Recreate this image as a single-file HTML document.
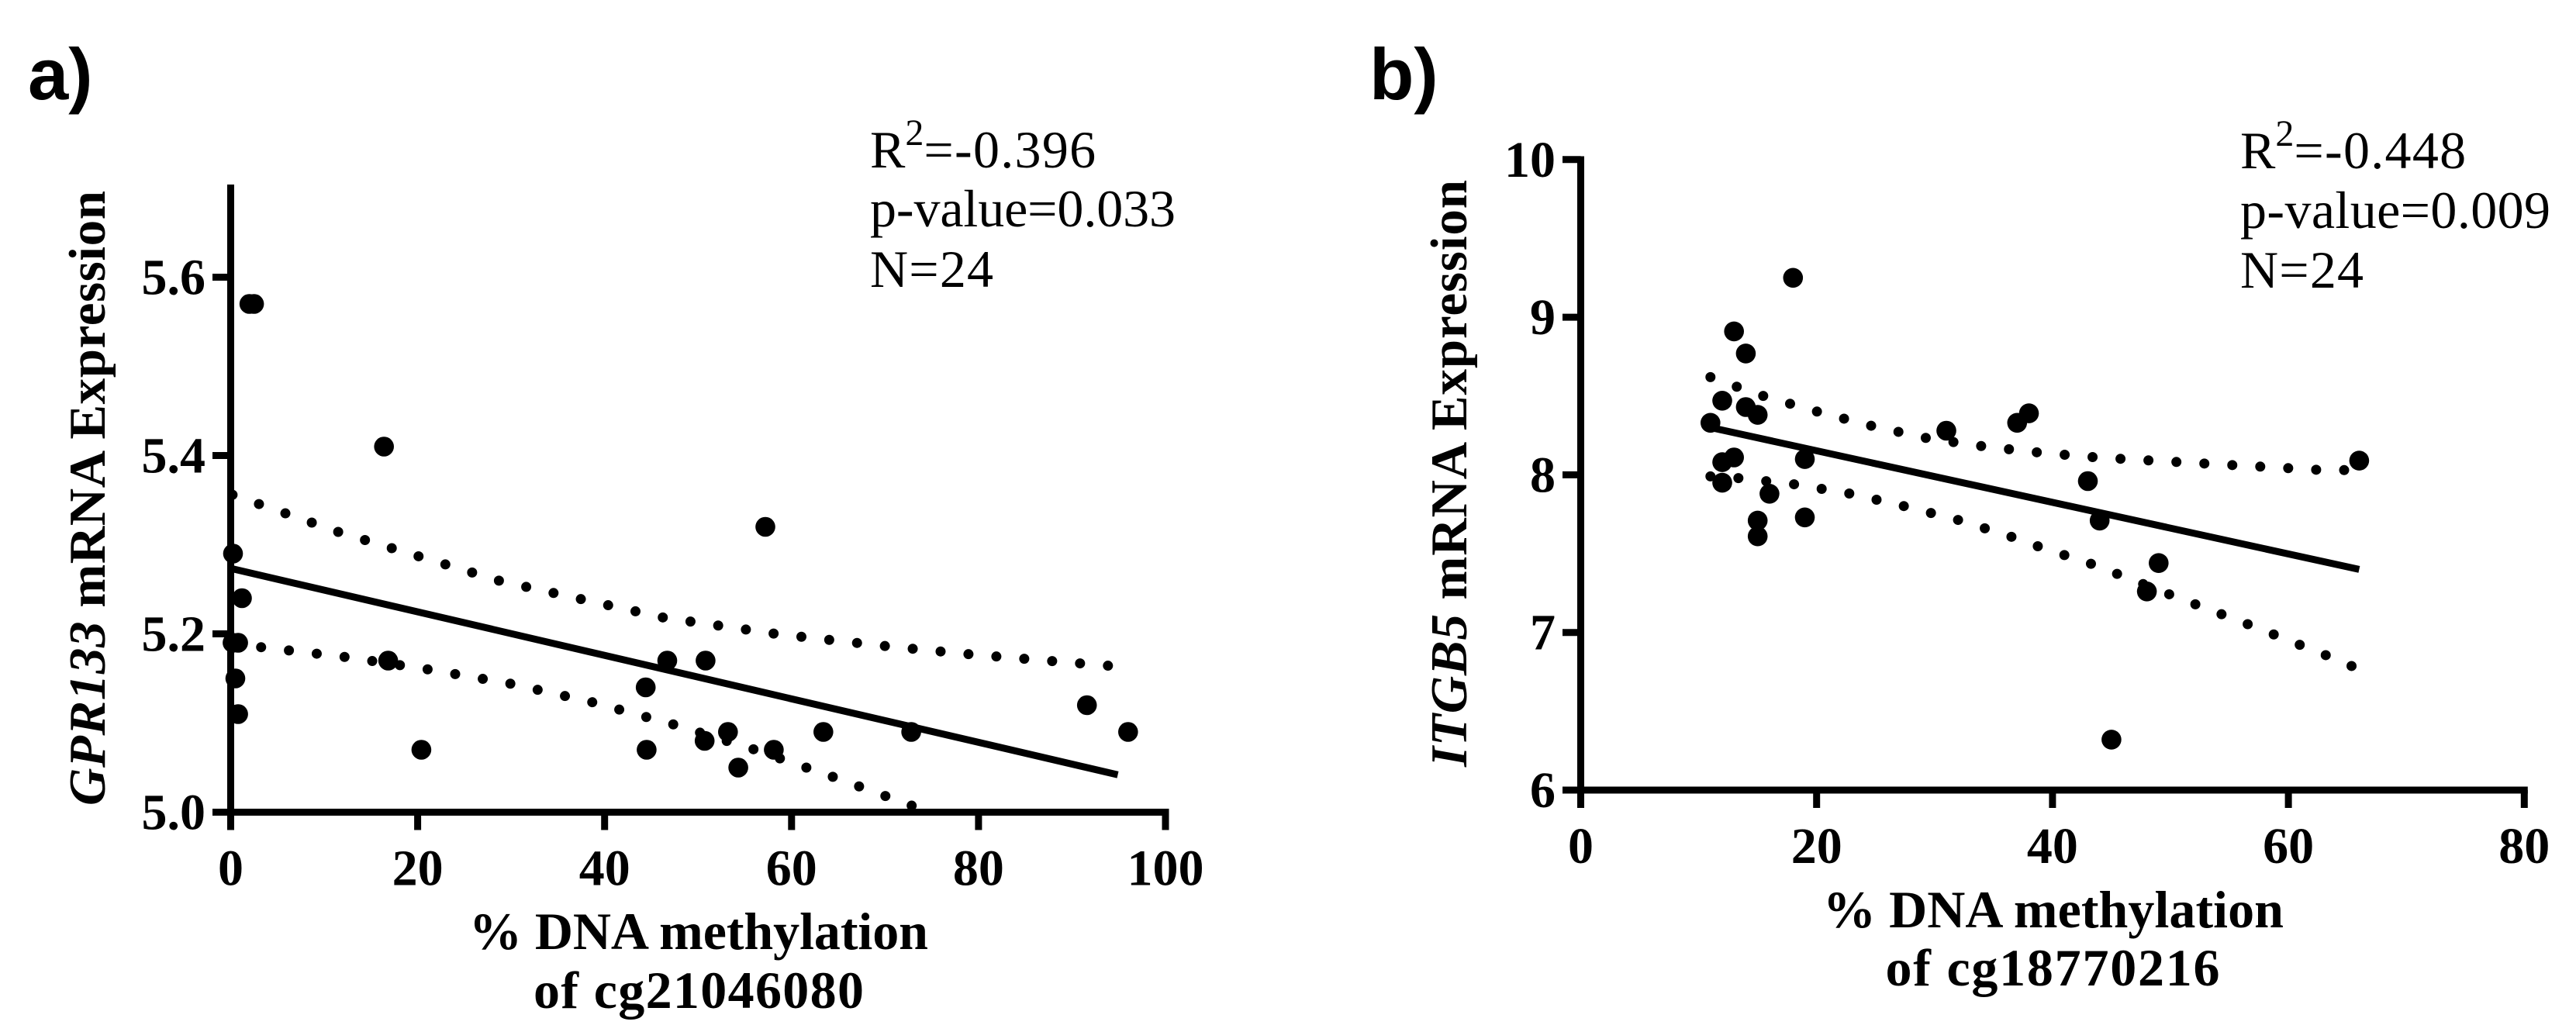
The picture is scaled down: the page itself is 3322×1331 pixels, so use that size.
<!DOCTYPE html>
<html lang="en">
<head>
<meta charset="utf-8">
<title>DNA methylation vs mRNA expression</title>
<style>
html,body{margin:0;padding:0;background:#fff;}
svg{display:block;}
text{fill:#000;}
.serif{font-family:"Liberation Serif",serif;}
.sans{font-family:"Liberation Sans",sans-serif;font-weight:bold;}
.b{font-weight:bold;}
</style>
</head>
<body>
<svg id="chart" xmlns="http://www.w3.org/2000/svg" width="3322" height="1331" viewBox="0 0 3322 1331">
  <rect x="0" y="0" width="3322" height="1331" fill="#fff"/>
  <text class="sans" x="36" y="128" font-size="94">a)</text>
  <text class="sans" x="1766" y="128" font-size="94">b)</text>

  <text class="serif" x="1122" y="216" font-size="68">R<tspan font-size="48" dy="-29">2</tspan><tspan dy="29" letter-spacing="1.3">=-0.396</tspan></text>
  <text class="serif" x="1122" y="292" font-size="68" textLength="394" lengthAdjust="spacing">p-value=0.033</text>
  <text class="serif" x="1122" y="370" font-size="68" textLength="159" lengthAdjust="spacing">N=24</text>

  <text class="serif" x="2889" y="217" font-size="68">R<tspan font-size="48" dy="-29">2</tspan><tspan dy="29" letter-spacing="1.3">=-0.448</tspan></text>
  <text class="serif" x="2889" y="294" font-size="68" textLength="400" lengthAdjust="spacing">p-value=0.009</text>
  <text class="serif" x="2889" y="371" font-size="68" textLength="159" lengthAdjust="spacing">N=24</text>

  <text class="serif b" font-size="67" transform="translate(135 1039) rotate(-90)" textLength="793" lengthAdjust="spacing"><tspan font-style="italic">GPR133</tspan> mRNA Expression</text>
  <text class="serif b" font-size="67" transform="translate(1891 989) rotate(-90)" textLength="757" lengthAdjust="spacing"><tspan font-style="italic">ITGB5</tspan> mRNA Expression</text>

  <text class="serif b" x="901" y="1224" font-size="68" text-anchor="middle" textLength="592" lengthAdjust="spacing">% DNA methylation</text>
  <text class="serif b" x="901" y="1300" font-size="68" text-anchor="middle" textLength="426" lengthAdjust="spacing">of cg21046080</text>
  <text class="serif b" x="2648" y="1196" font-size="68" text-anchor="middle" textLength="594" lengthAdjust="spacing">% DNA methylation</text>
  <text class="serif b" x="2647" y="1271" font-size="68" text-anchor="middle" textLength="431" lengthAdjust="spacing">of cg18770216</text>
</svg>
<script>
// Panel a data
var aXTicks = [0, 20, 40, 60, 80, 100];
var aYTicks = [5.0, 5.2, 5.4, 5.6];
var aYTickLabels = ['5.0', '5.2', '5.4', '5.6'];
var aPointX = [2, 2.5, 16.4, 57.2, 0.25, 1.2, 0.8, 0.2, 0.5, 0.8, 16.85, 20.4, 46.7, 50.8, 44.4, 44.5, 50.7, 53.2, 54.3, 58.1, 63.4, 72.8, 91.6, 96];
var aPointY = [5.57, 5.57, 5.41, 5.32, 5.29, 5.24, 5.19, 5.19, 5.15, 5.11, 5.17, 5.07, 5.17, 5.17, 5.14, 5.07, 5.08, 5.09, 5.05, 5.07, 5.09, 5.09, 5.12, 5.09];
var aFitX = [0.2, 94.9];
var aFitY = [5.273, 5.042];
var aUpperX = [0.2, 11.6, 28.9, 46.4, 52.4, 58.3, 64.3, 70.3, 79.2, 94.2];
var aUpperY = [5.356, 5.314, 5.259, 5.218, 5.209, 5.200, 5.193, 5.186, 5.177, 5.164];
var aLowerX = [0.3, 3.3, 12.3, 21.2, 30, 38.8, 47.5, 56.1, 64.6, 73.2];
var aLowerY = [5.19, 5.185, 5.174, 5.16, 5.144, 5.123, 5.098, 5.07, 5.039, 5.006];

// Panel b data
var bXTicks = [0, 20, 40, 60, 80];
var bYTicks = [6, 7, 8, 9, 10];
var bYTickLabels = ['6', '7', '8', '9', '10'];
var bPointX = [18, 13, 14, 12, 14, 15, 11, 31, 37, 38, 13, 12, 19, 66, 43, 12, 16, 15, 19, 15, 44, 49, 48, 45];
var bPointY = [9.25, 8.91, 8.77, 8.47, 8.43, 8.38, 8.33, 8.28, 8.33, 8.39, 8.11, 8.08, 8.10, 8.09, 7.96, 7.95, 7.88, 7.71, 7.73, 7.61, 7.71, 7.44, 7.26, 6.32];
var bFitX = [11, 66];
var bFitY = [8.30, 7.40];
var bUpperX = [11, 13.2, 15.5, 17.8, 20.1, 24.7, 29.5, 34.2, 39, 43.8, 48.5, 53.3, 58.1, 62.9, 65.4];
var bUpperY = [8.62, 8.56, 8.50, 8.45, 8.40, 8.31, 8.23, 8.18, 8.14, 8.11, 8.09, 8.07, 8.05, 8.03, 8.03];
var bLowerX = [11, 13.3, 18.1, 20.5, 22.9, 27.5, 32.2, 36.8, 39, 43.5, 50.3, 57, 63.7, 65.9];
var bLowerY = [7.99, 7.98, 7.94, 7.91, 7.88, 7.80, 7.71, 7.60, 7.54, 7.43, 7.23, 7.04, 6.84, 6.77];

var SVG_NS = 'http://www.w3.org/2000/svg';
var svg = document.getElementById('chart');

function make(tag, parent) {
  var el = document.createElementNS(SVG_NS, tag);
  parent.appendChild(el);
  return el;
}

function bar(parent, name, x1, y1, x2, y2, w) {
  var el = make('line', parent);
  
  
  el.setAttribute('x1', x1);
  el.setAttribute('y1', y1);
  el.setAttribute('x2', x2);
  el.setAttribute('y2', y2);
  el.setAttribute('stroke', '#000');
  el.setAttribute('stroke-width', w);
}

function label(parent, name, x, y, anchor, str) {
  var el = make('text', parent);
  
  
  el.setAttribute('class', 'serif b');
  el.setAttribute('font-size', '66');
  el.setAttribute('x', x);
  el.setAttribute('y', y);
  el.setAttribute('text-anchor', anchor);
  el.textContent = str;
}

function pathFrom(xs, ys, sx, sy) {
  return xs.map(function (v, i) {
    return (i ? 'L' : 'M') + sx(v).toFixed(1) + ' ' + sy(ys[i]).toFixed(1);
  }).join(' ');
}

function band(parent, name, xs, ys, sx, sy) {
  var el = make('path', parent);
  
  
  el.setAttribute('d', pathFrom(xs, ys, sx, sy));
  el.setAttribute('fill', 'none');
  el.setAttribute('stroke', '#000');
  el.setAttribute('stroke-width', '13');
  el.setAttribute('stroke-linecap', 'round');
  el.setAttribute('stroke-dasharray', '0 36.1');
}

function drawPanel(p) {
  var g = make('g', svg);
  
  

  var sx = function (v) { return p.x0 + (v - p.xMin) * p.xScale; };
  var sy = function (v) { return p.y0 - (v - p.yMin) * p.yScale; };

  bar(g, p.id + '-y-axis', sx(p.xMin), p.top, sx(p.xMin), p.y0 + 4.5, 9);
  bar(g, p.id + '-x-axis', p.x0 - 23.5, p.y0, sx(p.xMax) + 4.5, p.y0, 9);

  p.xTicks.forEach(function (t) {
    bar(g, p.id + '-x-tick-' + t, sx(t), p.y0, sx(t), p.y0 + 23, 9);
    label(g, p.id + '-x-tick-label-' + t, sx(t), p.y0 + 94, 'middle', String(t));
  });
  p.yTicks.forEach(function (t, i) {
    bar(g, p.id + '-y-tick-' + p.yLabels[i], p.x0 - 23.5, sy(t), p.x0, sy(t), 9);
    label(g, p.id + '-y-tick-label-' + p.yLabels[i], p.x0 - 32.5, sy(t) + 22, 'end', p.yLabels[i]);
  });

  band(g, p.id + '-upper-confidence-band', p.upperX, p.upperY, sx, sy);
  band(g, p.id + '-lower-confidence-band', p.lowerX, p.lowerY, sx, sy);

  var fit = make('path', g);
  
  
  fit.setAttribute('d', pathFrom(p.fitX, p.fitY, sx, sy));
  fit.setAttribute('fill', 'none');
  fit.setAttribute('stroke', '#000');
  fit.setAttribute('stroke-width', '9');

  p.pointX.forEach(function (v, i) {
    var c = make('circle', g);
    
    
    c.setAttribute('cx', sx(v).toFixed(1));
    c.setAttribute('cy', sy(p.pointY[i]).toFixed(1));
    c.setAttribute('r', '12.8');
    c.setAttribute('fill', '#000');
  });
}

drawPanel({
  id: 'panel-a', x0: 297.5, y0: 1047.5, top: 238, xMin: 0, xMax: 100, yMin: 5, xScale: 12.055, yScale: 1150,
  xTicks: aXTicks, yTicks: aYTicks, yLabels: aYTickLabels,
  pointX: aPointX, pointY: aPointY, fitX: aFitX, fitY: aFitY,
  upperX: aUpperX, upperY: aUpperY, lowerX: aLowerX, lowerY: aLowerY
});
drawPanel({
  id: 'panel-b', x0: 2038.5, y0: 1019, top: 201.5, xMin: 0, xMax: 80, yMin: 6, xScale: 15.21, yScale: 203.3,
  xTicks: bXTicks, yTicks: bYTicks, yLabels: bYTickLabels,
  pointX: bPointX, pointY: bPointY, fitX: bFitX, fitY: bFitY,
  upperX: bUpperX, upperY: bUpperY, lowerX: bLowerX, lowerY: bLowerY
});
</script>
</body>
</html>
